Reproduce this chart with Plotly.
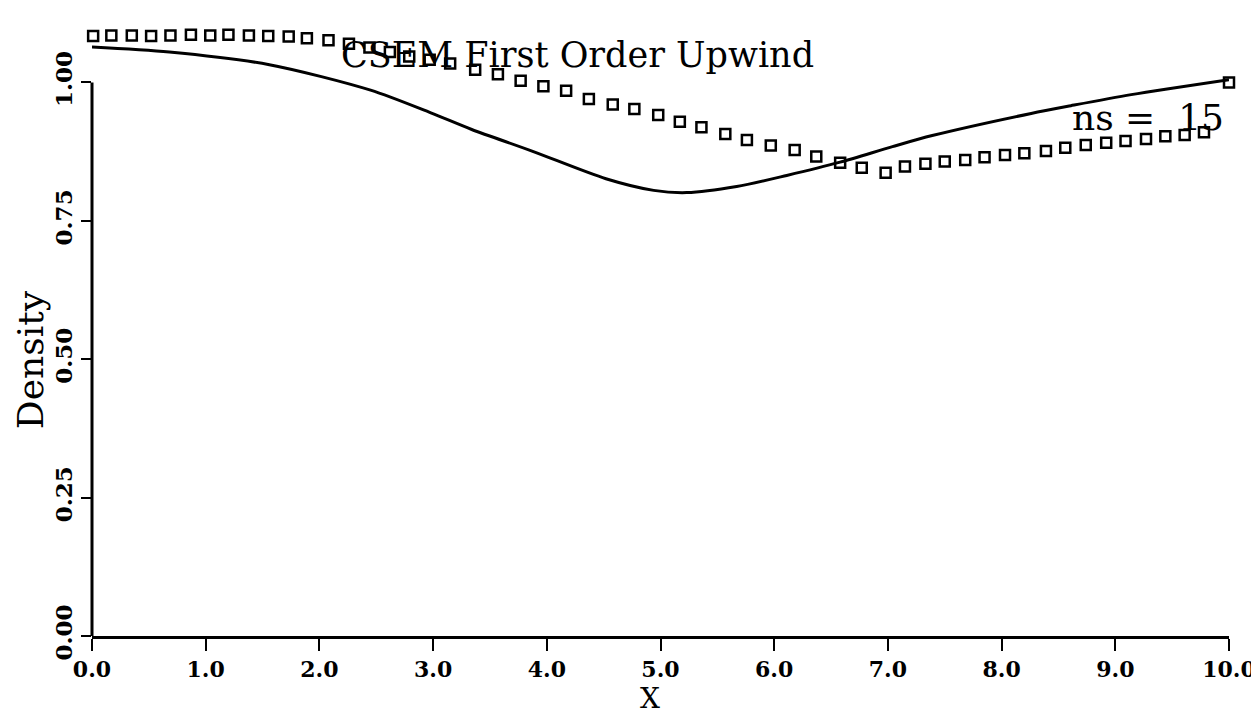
import plotly.graph_objects as go

# ---------------------------------------------------------------------------
# Data
# ---------------------------------------------------------------------------

# CSEM first order upwind result (open squares)
x_csem = [
    0.01, 0.17, 0.35, 0.52, 0.69, 0.87, 1.04, 1.20, 1.38, 1.55,
    1.73, 1.89, 2.08, 2.26, 2.44, 2.62, 2.79, 2.97, 3.15, 3.37,
    3.57, 3.77, 3.97, 4.17, 4.37, 4.58, 4.77, 4.98, 5.17, 5.36,
    5.57, 5.76, 5.97, 6.18, 6.37, 6.58, 6.77, 6.98, 7.15, 7.33,
    7.50, 7.68, 7.85, 8.03, 8.20, 8.39, 8.56, 8.74, 8.92, 9.09,
    9.27, 9.44, 9.61, 9.78, 10.0,
]
rho_csem = [
    1.084, 1.085, 1.085, 1.084, 1.085, 1.086, 1.085, 1.086, 1.085, 1.084,
    1.083, 1.080, 1.076, 1.070, 1.063, 1.055, 1.047, 1.041, 1.034, 1.023,
    1.015, 1.003, 0.993, 0.985, 0.970, 0.960, 0.952, 0.941, 0.929, 0.919,
    0.907, 0.896, 0.886, 0.878, 0.866, 0.855, 0.846, 0.837, 0.848, 0.853,
    0.857, 0.860, 0.865, 0.869, 0.872, 0.876, 0.882, 0.887, 0.891, 0.894,
    0.898, 0.903, 0.905, 0.910, 1.000,
]

# reference solution (solid line)
x_exact = [0.0, 0.68, 1.56, 2.45, 2.98, 3.34, 3.87, 4.52, 4.94, 5.23,
           5.67, 6.11, 6.58, 7.04, 7.39, 8.26, 8.61, 9.14, 10.0]
rho_exact = [1.064, 1.055, 1.032, 0.986, 0.945, 0.915, 0.876, 0.826, 0.805, 0.801,
             0.812, 0.832, 0.856, 0.884, 0.904, 0.944, 0.958, 0.978, 1.005]

x_tickvals = [0, 1, 2, 3, 4, 5, 6, 7, 8, 9, 10]
x_ticktext = ["0.0", "1.0", "2.0", "3.0", "4.0", "5.0", "6.0", "7.0", "8.0", "9.0", "10.0"]
y_tickvals = [0.0, 0.25, 0.5, 0.75, 1.0]
y_ticktext = ["0.00", "0.25", "0.50", "0.75", "1.00"]

Y_MAX = 1.12
SERIF = "DejaVu Serif, Liberation Serif, serif"
INK = "black"

fig = go.Figure()

fig.add_trace(go.Scatter(
    x=x_exact, y=rho_exact, mode="lines",
    line=dict(color=INK, width=3, shape="spline", smoothing=0.8),
    showlegend=False, hoverinfo="skip",
))
fig.add_trace(go.Scatter(
    x=x_csem, y=rho_csem, mode="markers",
    marker=dict(symbol="square-open", size=10, color=INK, line=dict(color=INK, width=2.5)),
    cliponaxis=False, showlegend=False,
))

# y axis line only spans 0..1 like the original
fig.add_shape(type="line", xref="paper", yref="paper",
              x0=0, x1=0, y0=0, y1=1.0 / Y_MAX,
              line=dict(color=INK, width=3))


def label(text, x, y, size, angle=0):
    fig.add_annotation(text=text, xref="paper", yref="paper", x=x, y=y,
                       xanchor="center", yanchor="middle", textangle=angle,
                       showarrow=False, font=dict(family=SERIF, size=size, color=INK))


label("CSEM First Order Upwind", 0.4274, 0.937, 35)
label("ns =\u00a0\u00a015", 0.929, 0.837, 36)
label("Density", -0.0545, 0.445, 36, angle=-90)
label("X", 0.491, -0.1, 28)

# the page body adds an 8px offset, margins compensate for it
fig.update_layout(
    width=1259, height=713,
    margin=dict(l=84, r=38, t=8, b=85),
    paper_bgcolor="white", plot_bgcolor="white",
    font=dict(family=SERIF, color=INK),
)
fig.update_xaxes(
    range=[0, 10], automargin=False, showgrid=False, zeroline=False,
    showline=True, linecolor=INK, linewidth=3,
    ticks="outside", ticklen=12, tickwidth=2, tickcolor=INK,
    tickvals=x_tickvals, ticktext=x_ticktext, ticklabelstandoff=0,
    tickfont=dict(family=SERIF, size=22, color=INK, weight="bold"),
)
fig.update_yaxes(
    range=[0, Y_MAX], automargin=False, showgrid=False, zeroline=False, showline=False,
    ticks="outside", ticklen=10, tickwidth=2, tickcolor=INK,
    tickvals=y_tickvals, ticktext=y_ticktext, tickangle=-90,
    tickfont=dict(family=SERIF, size=23, color=INK, weight="bold"),
)

fig.write_html("out.html")
